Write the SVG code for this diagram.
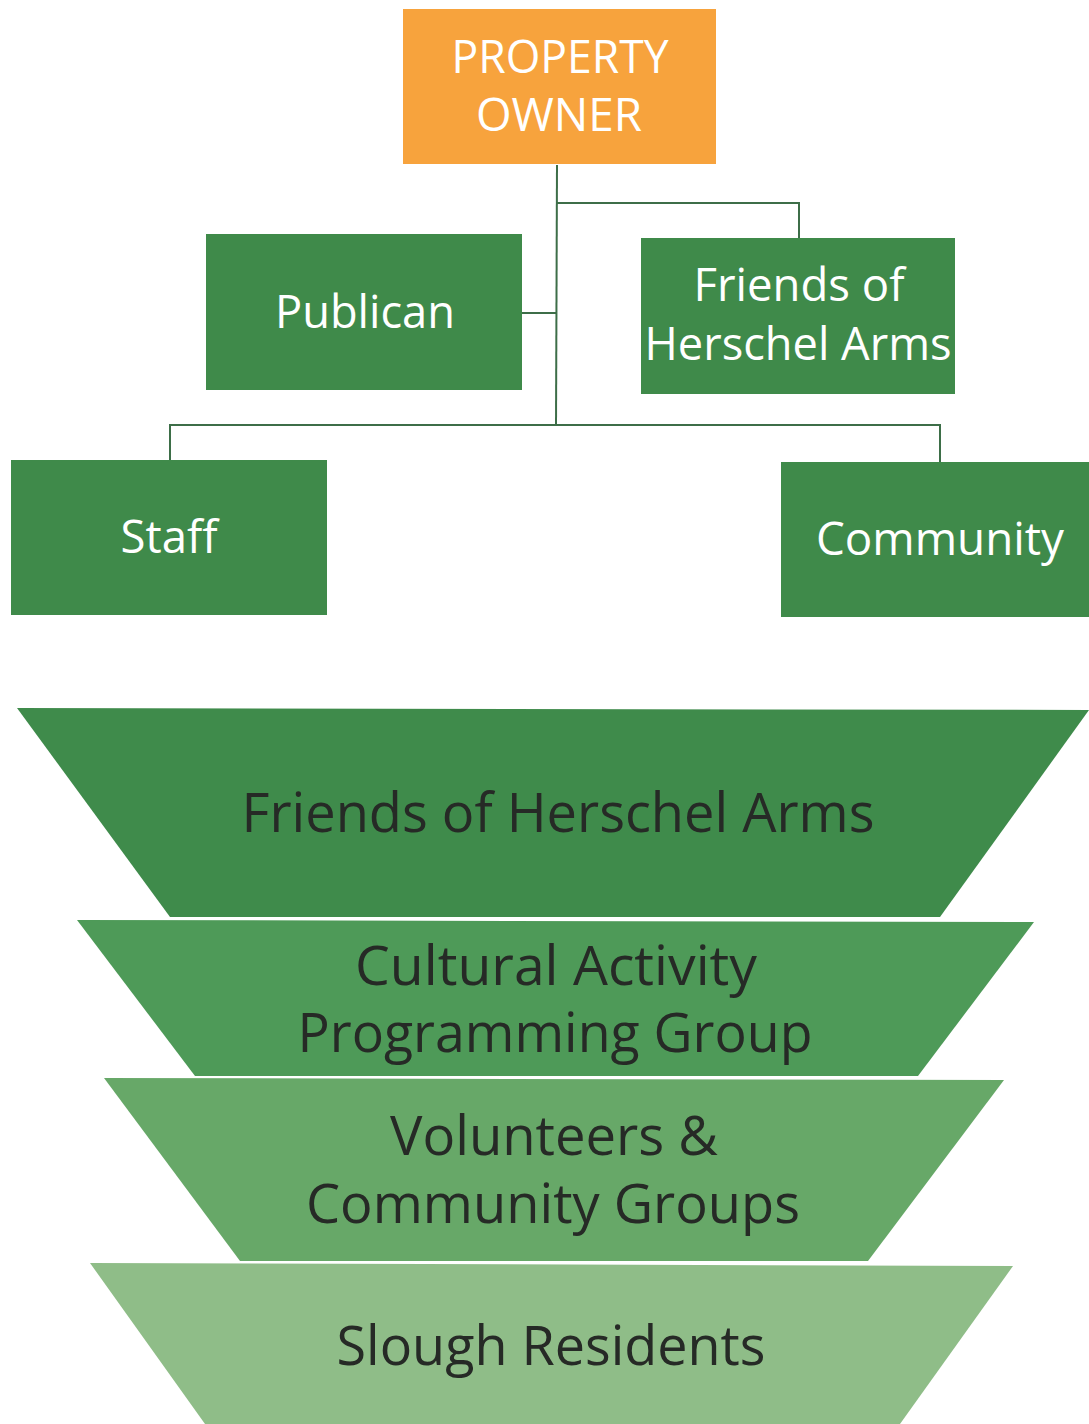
<svg xmlns="http://www.w3.org/2000/svg" width="1089" height="1424" viewBox="0 0 1089 1424">
<style>
.box{fill:#3f8a4a}
.wt{fill:#ffffff;font-family:"Open Sans","Liberation Sans",sans-serif;text-anchor:middle}
.dt{fill:#262a26;font-family:"Open Sans","Liberation Sans",sans-serif;text-anchor:middle}
.conn{stroke:#3d6e48;stroke-width:2;fill:none}
</style>
<rect width="1089" height="1424" fill="#ffffff"/>
<g id="connectors">
<path class="conn" d="M557,165 L556,425"/>
<path class="conn" d="M557,203 L799,203 L799,238"/>
<path class="conn" d="M522,313 L556,313"/>
<path class="conn" d="M170,460 L170,425 L940,425 L940,462"/>
</g>
<g id="property-owner">
<rect x="403" y="9" width="313" height="155" fill="#f7a33d"/>
<text class="wt" x="560" y="73" font-size="46" textLength="217" lengthAdjust="spacingAndGlyphs">PROPERTY</text>
<text class="wt" x="559" y="131" font-size="46" textLength="166" lengthAdjust="spacingAndGlyphs">OWNER</text>
</g>
<g id="publican">
<rect class="box" x="206" y="234" width="316" height="156"/>
<text class="wt" x="365" y="328" font-size="46" textLength="180" lengthAdjust="spacingAndGlyphs">Publican</text>
</g>
<g id="friends-box">
<rect class="box" x="641" y="238" width="314" height="156"/>
<text class="wt" x="799" y="301" font-size="46" textLength="211" lengthAdjust="spacingAndGlyphs">Friends of</text>
<text class="wt" x="798" y="360" font-size="46" textLength="307" lengthAdjust="spacingAndGlyphs">Herschel Arms</text>
</g>
<g id="staff">
<rect class="box" x="11" y="460" width="316" height="155"/>
<text class="wt" x="169" y="553" font-size="46" textLength="97" lengthAdjust="spacingAndGlyphs">Staff</text>
</g>
<g id="community">
<rect class="box" x="781" y="462" width="308" height="155"/>
<text class="wt" x="940" y="555" font-size="46" textLength="248" lengthAdjust="spacingAndGlyphs">Community</text>
</g>
<g id="tier-friends">
<polygon points="17,708 1089,710 940,917 170,917" fill="#3f8b4b"/>
<text class="dt" x="558" y="832" font-size="54" textLength="633" lengthAdjust="spacingAndGlyphs">Friends of Herschel Arms</text>
</g>
<g id="tier-cultural">
<polygon points="77,920 1034,922 918,1076 195,1076" fill="#4e9a58"/>
<text class="dt" x="556" y="985" font-size="54" textLength="402" lengthAdjust="spacingAndGlyphs">Cultural Activity</text>
<text class="dt" x="555" y="1052" font-size="54" textLength="515" lengthAdjust="spacingAndGlyphs">Programming Group</text>
</g>
<g id="tier-volunteers">
<polygon points="104,1078 1004,1080 868,1261 240,1261" fill="#67a868"/>
<text class="dt" x="554" y="1155" font-size="54" textLength="328" lengthAdjust="spacingAndGlyphs">Volunteers &amp;</text>
<text class="dt" x="553" y="1223" font-size="54" textLength="494" lengthAdjust="spacingAndGlyphs">Community Groups</text>
</g>
<g id="tier-slough">
<polygon points="90,1263 1013,1266 900,1424 205,1424" fill="#8fbd88"/>
<text class="dt" x="551" y="1365" font-size="54" textLength="429" lengthAdjust="spacingAndGlyphs">Slough Residents</text>
</g>
</svg>
